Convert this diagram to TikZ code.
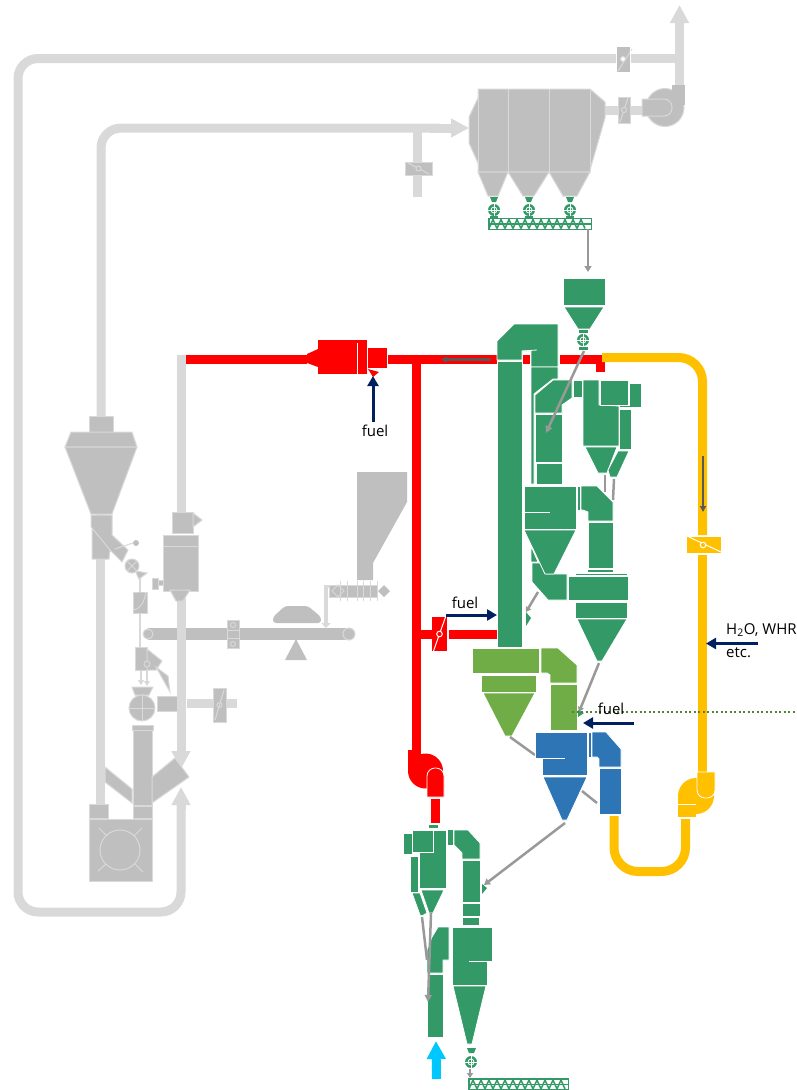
\documentclass[tikz,border=0pt]{standalone}
\usepackage{fontspec}
\setmainfont{Open Sans}
\usetikzlibrary{arrows.meta}
\definecolor{plantgrey}{HTML}{BFBFBF}
\definecolor{ductgrey}{HTML}{D9D9D9}
\definecolor{arrowgrey}{HTML}{999999}
\definecolor{darkgrey}{HTML}{595959}
\definecolor{plantgreen}{HTML}{339966}
\definecolor{leafgreen}{HTML}{70AD47}
\definecolor{dotgreen}{HTML}{548235}
\definecolor{plantblue}{HTML}{2E75B6}
\definecolor{plantyellow}{HTML}{FFC000}
\definecolor{fuelnavy}{HTML}{002060}
\definecolor{aircyan}{HTML}{00C8FF}
\newcommand{\rotvalve}[2]{
	\fill[plantgreen] (#1,#2) circle (6);
	\draw[white, line width=.8] (#1-6,#2) -- (#1+6,#2);
	\draw[white, line width=.8] (#1,#2-6) -- (#1,#2+6);
	\draw[white, line width=.8] (#1,#2) circle (3);
}
\newcommand{\screwconv}[3]{
	\begin{scope}[shift={(#1,#2)}]
	\draw[plantgreen, line width=1.2, fill=white] (0,0) rectangle (#3,11);
	\foreach \sx in {0,8,...,92} {
		\draw[plantgreen, line width=1.5] (\sx,10) -- (\sx+4,1) -- (\sx+8,10);
	}
	\draw[plantgreen, line width=1.2] (0,5.5) -- (#3,5.5);
	\end{scope}
}
\newcommand{\damperbox}[5]{
	\fill[#5] (#1,#2) rectangle (#3,#4);
	\draw[white, line width=1] ({(#1+#3)/2-6},#4) -- ({(#1+#3)/2+6},#2);
	\draw[white, line width=1, fill=#5] ({(#1+#3)/2},{(#2+#4)/2}) circle (2.8);
}
\begin{document}
\begin{tikzpicture}
[x=1pt, y=-1pt, font=\fontsize{15}{16}\selectfont]
\tikzstyle{duct}=[draw=ductgrey, line width=9, rounded corners=20]
\tikzstyle{thinduct}=[draw=ductgrey, line width=2.5]
\tikzstyle{plant}=[fill=plantgrey, draw=ductgrey, line width=1]
\tikzstyle{stage}=[fill=plantgreen, draw=white, line width=.8]
\tikzstyle{leaf}=[fill=leafgreen, draw=white, line width=.8]
\tikzstyle{blue}=[fill=plantblue, draw=white, line width=.8]
\tikzstyle{hot}=[draw=red, line width=9]
\tikzstyle{cool}=[draw=plantyellow, line width=9]
\tikzstyle{dust}=[draw=arrowgrey, line width=2.5]
\tikzstyle{fuelflow}=[draw=fuelnavy, line width=3, -{Triangle[length=10pt,width=11pt]}]
\tikzstyle{bighead}=[-{Triangle[length=18pt,width=18pt]}]
\useasboundingbox (0,0) rectangle (797,1090);

\draw[duct] (616,58.5) -- (18,58.5) -- (18,912) -- (181,912) -- (181,800);
\draw[draw=ductgrey, line width=9, bighead] (181,810) -- (181,787);
\draw[draw=ductgrey, line width=9] (630,58.5) -- (679.5,58.5);
\draw[draw=ductgrey, line width=9, bighead] (679.5,90) -- (679.5,5);
\draw[duct] (101,560) -- (101,128) -- (440,128);
\draw[draw=ductgrey, line width=9, bighead] (430,128) -- (469,128);
\draw[draw=ductgrey, line width=9] (417.5,128) -- (417.5,197);
\draw[draw=ductgrey, line width=9] (100.5,559) -- (100.5,804);
\draw[draw=ductgrey, line width=9] (605,110.5) -- (642,110.5);
\draw[draw=ductgrey, line width=9] (187,703.5) -- (237,703.5);

\draw[plant] (405,162) rectangle (432,175);
\draw[ductgrey, line width=1] (408,163) -- (429,174);
\draw[plant] (418.5,168.5) circle (2.5);
\draw[plant] (618,97) rectangle (630,123);
\draw[ductgrey, line width=1] (620,122) -- (628,98);
\draw[plant] (624,110) circle (2.5);
\fill[plantgrey] (617,47) rectangle (630,72);
\draw[ductgrey, line width=1] (618,71) -- (632,49);
\draw[ductgrey, line width=1, fill=white] (623,59) circle (2.5);
\fill[white] (630,47) rectangle (631,72);

\draw[plant] (478,89) -- (478,98) -- (469,117) -- (469,143) -- (478,163) -- (478,172) -- (590,172) -- (590,170) -- (605,118) -- (605,102) -- (590,89) -- cycle;
\draw[ductgrey, line width=1] (508,89) -- (508,172);
\draw[ductgrey, line width=1] (549,89) -- (549,172);
\draw[ductgrey, line width=1] (590,89) -- (590,172);
\draw[ductgrey, line width=1] (478,89) -- (478,172);
\draw[plant] (478,172) -- (508,172) -- (498,196) -- (488,196) -- cycle;
\draw[plant] (508,172) -- (549,172) -- (534,196) -- (523,196) -- cycle;
\draw[plant] (549,172) -- (590,172) -- (577,196) -- (563,196) -- cycle;
\foreach \vx in {494,529,570} {
	\fill[plantgreen] (\vx-4,197) -- (\vx+4,197) -- (\vx+2,202) -- (\vx-2,202) -- cycle;
	\rotvalve{\vx}{210}
	\fill[plantgreen] (\vx-4,216) rectangle (\vx+4,217.5);
}
\screwconv{489}{218.5}{102.5}
\draw[dust, -{Triangle[length=6pt,width=7pt]}] (588,229) -- (588,272);

\draw[plant] (665,107.5) circle (19);
\fill[plantgrey] (672,85) rectangle (684.5,105);
\draw[plant] (642,116) -- (660,116) [rounded corners=8] -- (672,116) -- (672,99) [sharp corners] -- (660,99) -- (642,99) -- cycle;

\draw[draw=ductgrey, line width=9] (181.5,355) -- (181.5,512);
\draw[plant] (172,512) rectangle (193,533);
\draw[plant] (193,513) -- (202,520) -- (193,527) -- cycle;
\draw[draw=plantgrey, line width=12, line cap=round] (150,634) -- (176,634);
\draw[draw=plantgrey, line width=12, line cap=round] (187,634) -- (349,634);
\draw[plant] (148,634) circle (5);
\draw[plant] (349,634) circle (6);
\draw[plant] (227,620) rectangle (239,648);
\draw[ductgrey, line width=1] (227,630) -- (239,630);
\draw[ductgrey, line width=1] (227,638) -- (239,638);
\draw[ductgrey, line width=1] (233,625) circle (2.5);
\draw[ductgrey, line width=1] (233,644) circle (2.5);
\draw[draw=ductgrey, line width=9] (181.5,590) -- (181.5,760);
\draw[draw=ductgrey, line width=9, bighead] (181,745) -- (181,769);

\draw[plant] (163,535) rectangle (198,591);
\draw[ductgrey, line width=1] (163,546) -- (198,546);
\draw[plant] (170,590) -- (190,590) -- (183,601) -- (176,601) -- cycle;
\draw[plant] (152,578) rectangle (158,589);
\draw[plant] (158,580) rectangle (163,585);

\draw[plant] (89,416) rectangle (113,432);
\draw[plant] (71,432) -- (132,432) -- (137,447) -- (65,447) -- cycle;
\draw[plant] (65,447) -- (137,447) -- (112,514) -- (91,514) -- cycle;
\draw[plant] (91,515) -- (112,515) -- (112,535) -- (128,550) -- (122,562) -- (110,550) -- (109,559) -- (92,559) -- (92,528) -- (91,527) -- cycle;
\draw[ductgrey, line width=1] (92,528) -- (110,550);
\draw[ductgrey, line width=1] (115,549) -- (133,543);
\fill[plantgrey] (136,543) circle (3);
\draw[plant] (132,566) circle (7);
\draw[ductgrey, line width=1] (127,561) -- (137,571);
\draw[ductgrey, line width=1] (127,571) -- (137,561);
\draw[plant] (136,571) -- (147,573) -- (139,579) -- (137,575) -- cycle;
\draw[thinduct] (140,578) -- (140,647);
\draw[plant] (133,592) -- (142,592) -- (147,592) -- (147,613) -- (133,613) -- cycle;
\draw[ductgrey, line width=1] (134,610) .. controls (143,607) and (144,600) .. (146,593);
\draw[plant] (135,647) rectangle (147,670);
\draw[plant] (147,649) -- (162,661) -- (156,670) -- (147,670) -- cycle;
\draw[plant] (147,664) circle (3);
\draw[plant] (156,667) -- (168,676) -- (170,692) -- cycle;
\draw[thinduct, -{Triangle[length=5pt,width=6pt]}] (141,670) -- (141,685);
\draw[thinduct, -{Triangle[length=5pt,width=6pt]}] (147,670) -- (147,686);
\draw[plant] (132,687) -- (153,687) -- (149,695) -- (135,695) -- cycle;
\draw[plant] (142,708) circle (13);
\draw[ductgrey, line width=1] (129,708) -- (155,708);
\draw[ductgrey, line width=1] (142,695) -- (142,721);
\draw[plant] (132,725) -- (153,725) -- (153,730) -- (132,730) -- cycle;
\draw[plant] (133,730) rectangle (152,805);
\draw[plant] (105,767) -- (132,789) -- (132,803) -- (105,782) -- cycle;
\draw[plant] (152,777) -- (175,758) -- (189,777) -- (152,803) -- cycle;
\draw[plant] (157,696) rectangle (177,711);
\draw[plant] (213,688) rectangle (226,722);
\draw[ductgrey, line width=1] (215,720) -- (224,690);
\draw[ductgrey, line width=1] (219.5,705) circle (2.5);
\draw[plant] (133,806) rectangle (152,818);
\draw[plant] (89,804) rectangle (108,818);
\draw[plant] (89,819) rectangle (152,881);
\draw[ductgrey, line width=1] (120,850) circle (20);
\draw[ductgrey, line width=1] (99,828) -- (107,836);
\draw[ductgrey, line width=1] (142,828) -- (134,836);
\draw[ductgrey, line width=1] (98,871) -- (106,864);
\draw[ductgrey, line width=1] (143,872) -- (135,864);

\draw[plant, draw=none] (357,472) -- (407,472) -- (407,502) -- (373,563) -- (373,580) -- (357,580) -- cycle;
\draw[plant] (329,585) rectangle (377,597);
\foreach \tx in {340,347,357,363,370,377} {
	\draw[ductgrey, line width=1] (\tx,581) -- (\tx,601);
}
\draw[ductgrey, line width=1] (338,585) -- (344,591) -- (338,597) -- (332,591) -- cycle;
\fill[plantgrey] (384,585) -- (390,591) -- (384,597) -- (378,591) -- cycle;
\draw[draw=ductgrey, line width=3.5, -{Triangle[length=5pt,width=9pt]}] (329,586.5) -- (326,586.5) -- (326,628);
\draw[plant, draw=none, rounded corners=3] (285,606) -- (308,606) -- (321,617) -- (321,623) -- (273,623) -- (273,617) -- cycle;
\fill[plantgrey] (296,639) -- (307,660) -- (285,660) -- cycle;

\draw[hot] (186,359.5) -- (307,359.5);
\draw[hot] (388,359.5) -- (497,359.5);
\draw[hot] (416.5,359.5) -- (416.5,750);
\draw[hot] (421,634.5) -- (432,634.5);
\draw[hot] (449,634.5) -- (499,634.5);
\draw[hot] (523,359.5) -- (530,359.5);
\draw[hot] (560,359.5) -- (605,359.5);
\draw[hot] (600.5,364) -- (600.5,372);
\fill[red] (307,354) -- (318,349) -- (318,367) -- (307,363) -- cycle;
\fill[red] (318,340) rectangle (367,374);
\draw[white, line width=1] (357,343) -- (357,374);
\fill[red] (368,348) rectangle (387,368);
\fill[red] (368,369) -- (379,372) -- (373,377) -- cycle;
\draw[draw=darkgrey, line width=2.5, -{Triangle[length=6pt,width=6pt]}] (491,359.5) -- (441,359.5);
\damperbox{432}{617}{447}{651}{red}
\fill[red] (408,750) rectangle (421,771);
\fill[red] (425.5,771) circle (17.5);
\draw[white, line width=.8, fill=red] (427,797) -- (427,780) [rounded corners=8] -- (427,768) -- (444,768) [sharp corners] -- (444,780) -- (444,797) -- cycle;
\draw[hot] (435.5,799) -- (435.5,823);

\draw[cool, rounded corners=24] (602,357.5) -- (702.5,357.5) -- (702.5,535);
\draw[cool] (702.5,555) -- (702.5,772);
\draw[draw=darkgrey, line width=2.5, -{Triangle[length=6pt,width=6pt]}] (703,456) -- (703,512);
\fill[plantyellow] (687,537) rectangle (721,553);
\draw[white, line width=1] (689,537) -- (721,552);
\draw[white, line width=1, fill=plantyellow] (703,545) circle (2.8);
\fill[plantyellow] (696,796) circle (18);
\fill[plantyellow] (678,796) rectangle (696,817);
\draw[white, line width=.8] (678,804) -- (696,804);
\draw[white, line width=.8, fill=plantyellow] (697,772) -- (715,772) -- (715,785) [rounded corners=8] -- (715,798) -- (697,798) [sharp corners] -- (697,785) -- cycle;
\draw[cool, rounded corners=24] (614,816) -- (614,871.5) -- (685.5,871.5) -- (685.5,819);

\draw[stage] (563,278) rectangle (605,305);
\draw[stage] (564,307) -- (604,307) -- (590,329) -- (578,329) -- cycle;
\fill[plantgreen] (579,330) rectangle (588,333);
\rotvalve{583}{340}
\fill[plantgreen] (579,347) rectangle (588,350);

\draw[stage] (497,361) rectangle (522,647);
\draw[stage] (497,360) -- (497,341) -- (514,324) -- (558,324) -- (558,367) -- (531,367) -- (531,351) -- (522,351) -- (522,360) -- cycle;
\draw[white, line width=.8] (522,351) -- (537,350);
\draw[stage] (531,367) -- (558,367) -- (558,379) -- (553,379) -- (534,394) -- (534,484) -- (531,484) -- cycle;
\draw[stage] (535,395) -- (553,380) -- (572,380) -- (572,398) -- (562,405) -- (562,413) -- (535,413) -- cycle;
\draw[stage] (535,414) rectangle (562,462);
\draw[stage] (536,463) rectangle (562,484);
\draw[stage] (573,380) rectangle (582,397);
\draw[stage] (583,380) -- (599,380) -- (599,405) -- (619,406) -- (619,446) -- (583,446) -- cycle;
\draw[stage] (600,380) rectangle (628,405);
\draw[stage] (619,405) -- (629,405) -- (629,383) -- (641,383) -- (641,407) -- (619,407) -- cycle;
\draw[stage] (619,409) rectangle (631,449);
\draw[stage] (585,447) -- (617,447) -- (607,473) -- (598,473) -- cycle;
\draw[stage] (618,451) -- (629,451) -- (617,477) -- (610,477) -- (608,470) -- cycle;
\draw[dust] (605,475) -- (605,492);
\draw[dust] (614,479) -- (613,500);
\draw[dust, -{Triangle[length=7pt,width=7pt]}] (584,351) -- (546,433);

\draw[stage] (524,486) rectangle (576,529);
\draw[white, line width=.8] (524,512) -- (550,512);
\draw[stage] (531,546) -- (538,562) -- (531,562) -- cycle;
\draw[stage] (532,563) -- (540,563) -- (546,574) -- (567,574) -- (567,600) -- (548,600) -- (532,582) -- cycle;
\draw[stage] (524,530) -- (576,530) -- (554,574) -- (545,574) -- cycle;
\draw[stage] (577,486) rectangle (580,510);
\draw[stage] (581,486) -- (597,486) -- (613,502) -- (613,521) -- (588,521) -- (588,512) -- (583,510) -- (581,510) -- cycle;
\draw[stage] (588,522) rectangle (613,568);
\draw[stage] (587,569) rectangle (613,572);
\draw[stage] (575,573) rectangle (627,575);
\draw[stage] (568,576) rectangle (628,600);
\draw[stage] (575,602) rectangle (627,618);
\draw[stage] (577,619) -- (627,619) -- (602,661) -- (597,661) -- cycle;
\draw[dust, -{Triangle[length=5pt,width=6pt]}] (538,592) -- (526,612);
\fill[plantgreen] (526,612) -- (531,618) -- (526,626) -- cycle;

\draw[leaf] (472,648) rectangle (539,673);
\draw[leaf] (481,675) rectangle (536,692);
\draw[leaf] (483,693) -- (535,693) -- (512,736) -- (505,736) -- cycle;
\draw[leaf] (541,648) -- (558,648) -- (577,665) -- (577,683) -- (550,683) -- (550,675) -- (547,673) -- (541,673) -- cycle;
\draw[leaf] (550,684) rectangle (577,730);
\draw[dust, -{Triangle[length=5pt,width=6pt]}] (599,663) -- (579,712);
\fill[plantgreen] (578,710) -- (584,713) -- (578,717) -- cycle;
\draw[dust] (510,737) -- (535,755);

\draw[blue] (535,732) -- (587,732) -- (587,775) -- (542,775) -- (542,758) -- (535,758) -- cycle;
\draw[white, line width=.8] (542,758) -- (565,758);
\draw[blue] (543,777) -- (587,777) -- (567,820) -- (562,820) -- cycle;
\draw[blue] (588,732) rectangle (591,757);
\draw[blue] (592,732) -- (606,732) -- (621,749) -- (621,767) -- (599,767) -- (599,759) -- (597,757) -- (592,757) -- cycle;
\draw[blue] (599,768) rectangle (621,814);
\draw[dust] (582,791) -- (597,803);
\draw[dust, -{Triangle[length=6pt,width=7pt]}] (565,823) -- (484,885);
\fill[plantgreen] (482,884) -- (487,888) -- (482,894) -- cycle;

\draw[stage] (428,824) rectangle (438,828);
\draw[stage] (403,833) rectangle (412,854);
\draw[stage] (433,830) -- (446,830) -- (446,888) -- (419,888) -- (419,852) -- (433,852) -- cycle;
\draw[stage] (412,830) rectangle (433,852);
\draw[stage] (410,856) rectangle (418,892);
\draw[stage] (421,890) -- (444,890) -- (433,913) -- (429,913) -- cycle;
\draw[stage] (412,893) -- (420,893) -- (427,913) -- (422,916) -- (420,915) -- cycle;
\draw[stage] (447,829) rectangle (453,845);
\draw[stage] (454,830) -- (468,830) -- (480,843) -- (480,859) -- (462,859) -- (462,853) -- (454,845) -- cycle;
\draw[stage] (462,860) rectangle (480,902);
\draw[stage] (462,903) rectangle (480,916);
\draw[stage] (462,917) rectangle (479,925);
\draw[stage] (452,927) -- (492,927) -- (492,961) -- (487,961) -- (487,985) -- (452,985) -- cycle;
\draw[white, line width=.8] (469,961) -- (487,961);
\draw[stage] (453,986) -- (486,986) -- (472,1044) -- (467,1044) -- cycle;
\fill[plantgreen] (467,1048) -- (476,1048) -- (474,1053) -- (469,1053) -- cycle;
\rotvalve{471}{1062}
\draw[dust, line width=2, -{Triangle[length=5pt,width=6pt]}] (470,1069) -- (470,1078);
\screwconv{469}{1079}{99.5}
\draw[stage] (438,927) -- (449,927) -- (449,960) -- (443,960) -- (443,973) -- (427,973) -- (427,950) -- (432,937) -- cycle;
\draw[stage] (427,974) rectangle (443,1037);
\draw[dust] (422,917) -- (427,960);
\draw[dust, -{Triangle[length=7pt,width=7pt]}] (431,913) -- (428,1002);
\draw[draw=aircyan, line width=9, bighead] (436.5,1079) -- (436,1041);

\draw[draw=dotgreen, line width=2, dash pattern=on 2pt off 2.5pt] (572,711.5) -- (797,711.5);
\draw[fuelflow] (373,422) -- (373,376);
\draw[fuelflow] (446,615) -- (497,615);
\draw[fuelflow] (634,723) -- (583,723);
\draw[fuelflow] (758,643.5) -- (706,643.5);

\node (fuelA) at (375,431) {fuel};
\node (fuelB) at (465,603) {fuel};
\node (fuelC) at (611,709) {fuel};
\node[anchor=west, inner sep=0pt] (water) at (726,630) {H\textsubscript{2}O, WHR};
\node[anchor=west, inner sep=0pt] (etc) at (726,653) {etc.};
\end{tikzpicture}
\end{document}
